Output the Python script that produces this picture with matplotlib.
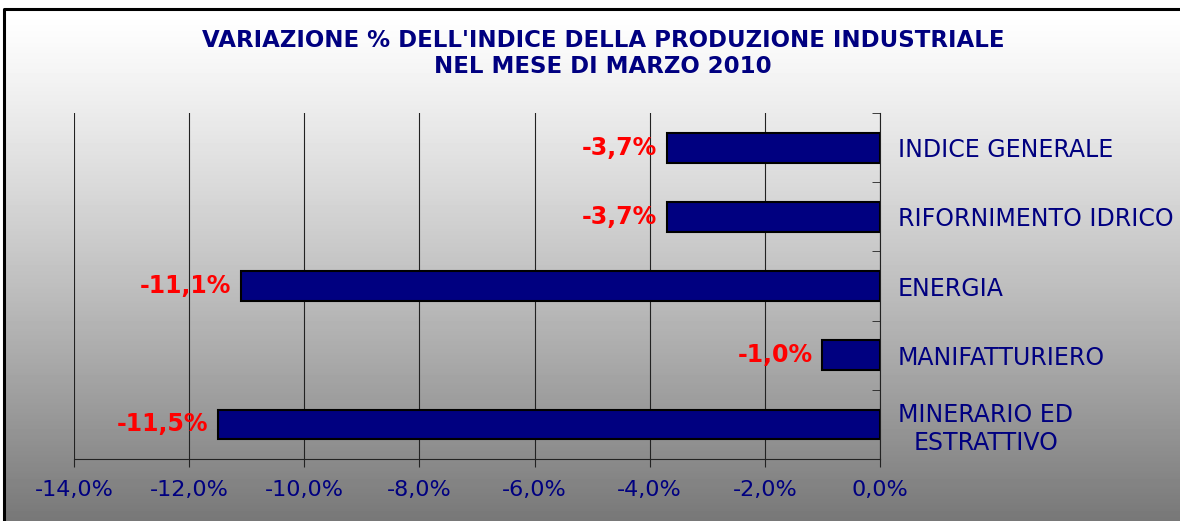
import matplotlib.pyplot as plt
import numpy as np

categories = ['MINERARIO ED\nESTRATTIVO', 'MANIFATTURIERO', 'ENERGIA',
              'RIFORNIMENTO IDRICO', 'INDICE GENERALE']
values = [-11.5, -1.0, -11.1, -3.7, -3.7]
xticks = [-14, -12, -10, -8, -6, -4, -2, 0]

navy = '#000080'

fig = plt.figure(figsize=(11.8, 5.21), dpi=100)

# background: white page, gray gradient panel with black frame on top/left
bg = fig.add_axes([0, 0, 1, 1], zorder=-1)
bg.axis('off')
t = np.linspace(0, 1, 256)
grad = (1.0 - 0.53 * t ** 1.2)[::-1].reshape(-1, 1)
bg.imshow(grad, cmap='gray', vmin=0, vmax=1, origin='lower',
          extent=[4, 1200, 0, 512], aspect='auto')
bg.plot([4, 4, 1250], [-10, 512, 512], color='black', lw=2.2, clip_on=False)
bg.set_xlim(0, 1180)
bg.set_ylim(0, 521)

ax = fig.add_axes([0.0627, 0.119, 0.6831, 0.664])
ax.patch.set_alpha(0)
y = np.arange(len(categories))
ax.barh(y, values, height=0.43, color=navy, edgecolor='black', linewidth=1.5, zorder=3)

ax.set_xlim(-14, 0)
ax.set_ylim(-0.5, len(categories) - 0.5)
ax.set_xticks(xticks)
ax.set_xticklabels([f'{v:.1f}%'.replace('.', ',') for v in xticks],
                   color=navy, fontsize=16)
ax.tick_params(axis='x', direction='out', length=6, pad=9, color='#222222')
ax.grid(axis='x', color='#222222', linewidth=0.8, zorder=1)

# category labels right of the zero axis
ax.yaxis.tick_right()
ax.set_yticks(y)
ax.set_yticklabels(categories, color=navy, fontsize=17, ha='left')
for lab in ax.get_yticklabels():
    lab.set_multialignment('center')
ax.tick_params(axis='y', which='major', length=0, pad=13)
ax.set_yticks(np.arange(-0.5, len(categories)), minor=True)
ax.tick_params(axis='y', which='minor', direction='in', length=6, color='#222222')

for side in ['top', 'left']:
    ax.spines[side].set_visible(False)
ax.spines['right'].set_color('#222222')
ax.spines['bottom'].set_color('#222222')

for yi, v in zip(y, values):
    ax.annotate(f'{v:.1f}%'.replace('.', ','), (v, yi), xytext=(-7, 0),
                textcoords='offset points', ha='right', va='center',
                color='#ff0000', fontsize=17, fontweight='bold')

fig.text(0.511, 0.897, "VARIAZIONE % DELL'INDICE DELLA PRODUZIONE INDUSTRIALE\nNEL MESE DI MARZO 2010",
         ha='center', va='center', color=navy, fontsize=16.5, fontweight='bold',
         linespacing=1.2)

fig.savefig('out.png', dpi=100)
